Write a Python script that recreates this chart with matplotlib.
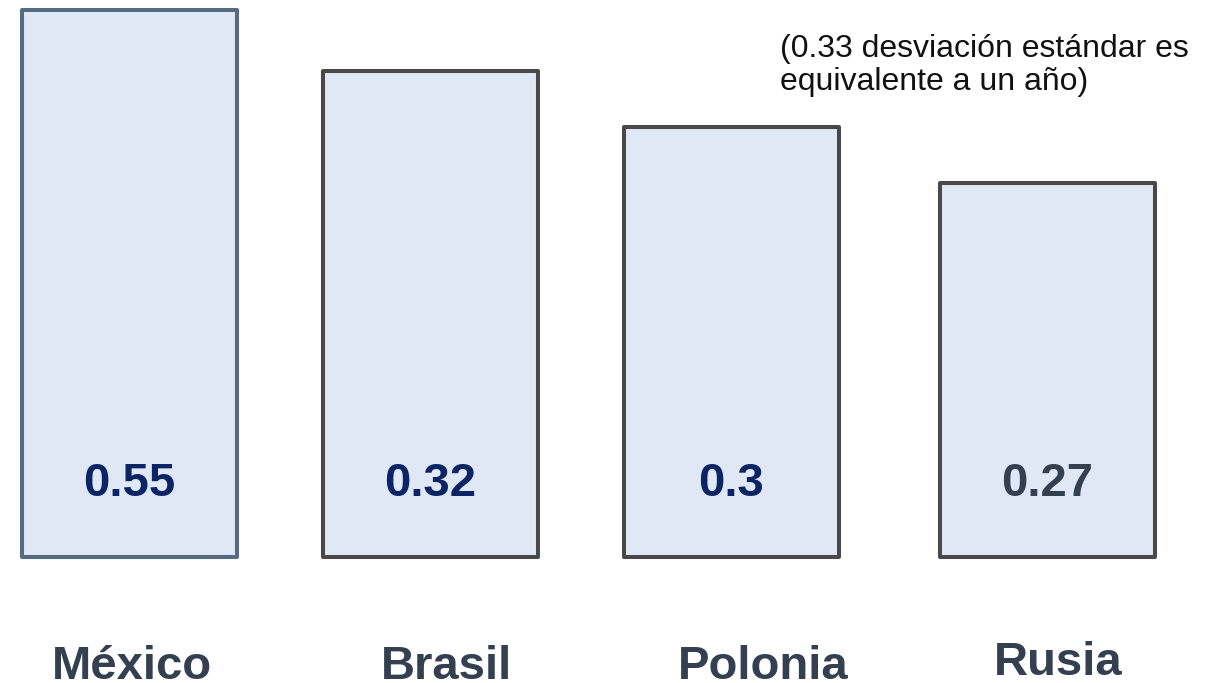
import matplotlib
matplotlib.use("Agg")
import matplotlib.pyplot as plt

# data
countries = ["México", "Brasil", "Polonia", "Rusia"]
values = ["0.55", "0.32", "0.3", "0.27"]
# drawn bar heights (bars are not drawn to scale in the original)
bar_heights = [547, 486, 430, 374]
note = "(0.33 desviación estándar es\nequivalente a un año)"

# layout (pixels of a 1220x683 canvas)
W, H = 1220, 683
bar_centers = [129.5, 430, 731.5, 1047.5]
bar_width = 215
base_y = 557
label_x = [132, 447, 763, 1058]
label_base = [679, 679, 679, 675]
edge_colors = ["#566a82", "#4a4848", "#4a4848", "#4a4848"]
value_colors = ["#0b2463", "#0b2463", "#0b2463", "#343f50"]
fill = "#e0e8f5"
label_color = "#343f50"

plt.rcParams["font.family"] = ["Liberation Sans", "DejaVu Sans"]

fig = plt.figure(figsize=(W / 100, H / 100), dpi=100)
ax = fig.add_axes([0, 0, 1, 1])
ax.set_xlim(0, W)
ax.set_ylim(base_y - H, base_y)  # y=0 at bar bottom, up is positive
ax.axis("off")

bars = ax.bar(bar_centers, bar_heights, width=bar_width, bottom=0,
              color=fill, edgecolor=edge_colors, linewidth=2.9)
for b in bars:
    b.set_joinstyle("round")

for xc, v, c in zip(bar_centers, values, value_colors):
    ax.text(xc, base_y - 496, v, ha="center", va="baseline", fontsize=34,
            fontweight="bold", color=c)

for xl, yb, name in zip(label_x, label_base, countries):
    ax.text(xl, base_y - yb, name, ha="center", va="baseline", fontsize=34,
            fontweight="bold", color=label_color)

for i, line in enumerate(note.split("\n")):
    ax.text(780, base_y - (57 + 33 * i), line, ha="left", va="baseline",
            fontsize=23, color="#111111")

fig.savefig("out.png", dpi=100)
